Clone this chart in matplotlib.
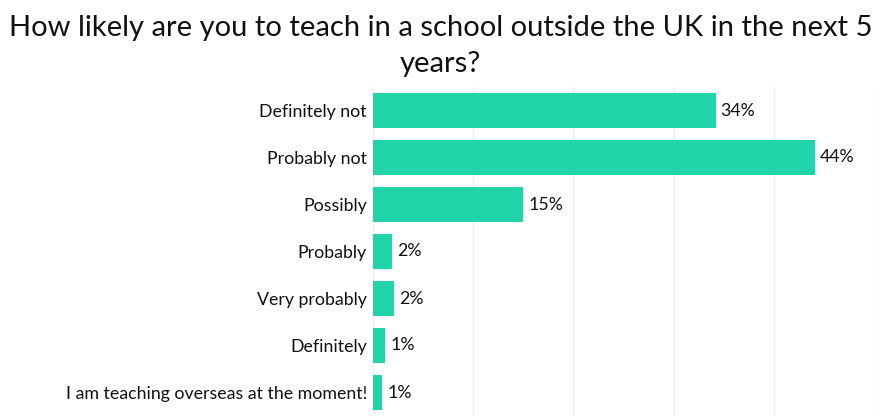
import matplotlib
matplotlib.use("Agg")
import matplotlib.pyplot as plt

categories = ["Definitely not", "Probably not", "Possibly", "Probably",
              "Very probably", "Definitely", "I am teaching overseas at the moment!"]
values = [34.2, 44.1, 15.0, 1.9, 2.1, 1.2, 0.9]
labels = ["34%", "44%", "15%", "2%", "2%", "1%", "1%"]
title_lines = ["How likely are you to teach in a school outside the UK in the next 5",
               "years?"]

plt.rcParams['font.family'] = ['Lato', 'DejaVu Sans']

fig = plt.figure(figsize=(8.81, 4.16), dpi=100)
W, H = 881, 416
ax = fig.add_axes([373 / W, 0, (874 - 373) / W, (416 - 87) / H])

y = list(range(len(categories)))
ax.barh(y, values, height=0.75, color="#21d4a9", zorder=2)
ax.set_ylim(len(categories) - 0.5, -0.5)
ax.set_xlim(0, 50)
ax.set_yticks(y)
ax.set_yticklabels(categories, fontsize=12.8, color="#111111")
ax.set_xticks([0, 10, 20, 30, 40, 50])
ax.tick_params(axis='x', length=0, labelbottom=False)
ax.tick_params(axis='y', length=0, pad=4.5)
ax.grid(axis='x', color="#eeeeee", linewidth=1, zorder=0)
for s in ax.spines.values():
    s.set_visible(False)

for yi, v, lab in zip(y, values, labels):
    ax.annotate(lab, (v, yi), xytext=(3.6, 0), textcoords="offset points",
                va="center", ha="left", fontsize=12.8, color="#111111")

for line, base in zip(title_lines, [36, 72]):
    fig.text(0.5, 1 - base / H, line, ha="center", va="baseline", fontsize=21,
             color="#111111")

fig.savefig("out.png", dpi=100)
